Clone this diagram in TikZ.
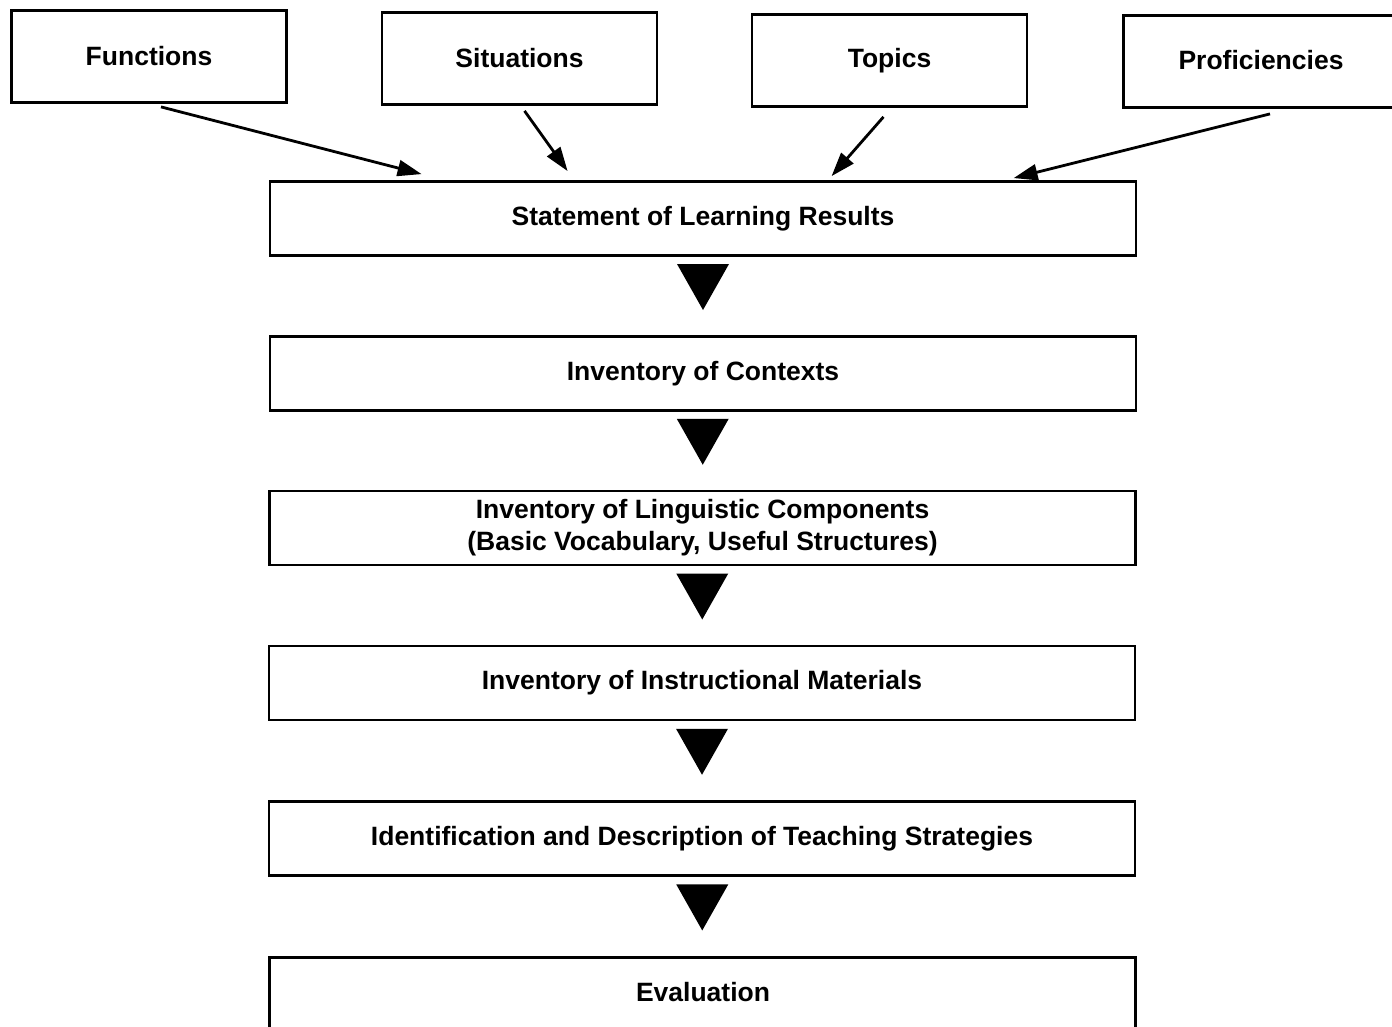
\documentclass[tikz,border=0pt]{standalone}
\usepackage{fontspec}
\setmainfont{Liberation Sans}
\usetikzlibrary{calc,arrows.meta}
\begin{document}
\begin{tikzpicture}[x=1pt,y=-1pt,
  boxfont/.style={font=\fontsize{26.5}{32}\selectfont\bfseries},
  topbox/.style={draw,line width=2.8pt,minimum width=275pt,minimum height=92pt,inner sep=0pt,boxfont},
  mainbox/.style={draw,line width=2.8pt,minimum width=866pt,minimum height=74pt,inner sep=0pt,align=center,boxfont},
  feed/.style={line width=2.8pt,-{Triangle[length=24pt,width=16pt]}},
  stepfill/.style={fill=black}]
\useasboundingbox (0,0) rectangle (1392,1027);
\fill[white] (0,0) rectangle (1392,1027);
\begin{scope}
\clip (0,0) rectangle (1392,1027);
\node[topbox] (fun) at (149,56.5) {Functions};
\node[topbox] (sit) at (519.5,58.5) {Situations};
\node[topbox] (top) at (889.5,60.5) {Topics};
\node[topbox,minimum width=278pt,anchor=west] (pro) at (1122,61.5) {};
\node[boxfont] (protext) at (1261,60) {Proficiencies};
\node[mainbox] (s1) at (703,218.5) {Statement of Learning Results};
\node[mainbox] (s2) at (703,373.5) {Inventory of Contexts};
\node[mainbox] (s3) at (702.5,528) {Inventory of Linguistic Components\\(Basic Vocabulary, Useful Structures)};
\node[mainbox] (s4) at (702,683) {Inventory of Instructional Materials};
\node[mainbox] (s5) at (702,838.5) {Identification and Description of Teaching Strategies};
\node[mainbox,minimum height=100pt,anchor=north] (s6) at (702.5,956) {};
\node[boxfont] (s6text) at (703,992) {Evaluation};
\end{scope}
% feeding arrows
\draw[feed] ($(fun.south)+(12,3)$) -- ($(s1.north west)+(153,-6)$);
\draw[feed] ($(sit.south)+(5,5)$) -- ($(s1.north west)+(299,-9)$);
\draw[feed] ($(top.south)+(-6,9)$) -- ($(s1.north west)+(563,-4)$);
\draw[feed] ($(pro.south west)+(148,5)$) -- ($(s1.north west)+(745,-2)$);
% flow triangles
\foreach \a/\b in {s1/s2,s2/s3,s3/s4,s4/s5,s5/s6}{
  \fill[stepfill] ($(\a.south)!0.5!(\b.north)+(-26,-32)$) -- ++(52,0) -- ++(-26,46) -- cycle;
}
\end{tikzpicture}
\end{document}
